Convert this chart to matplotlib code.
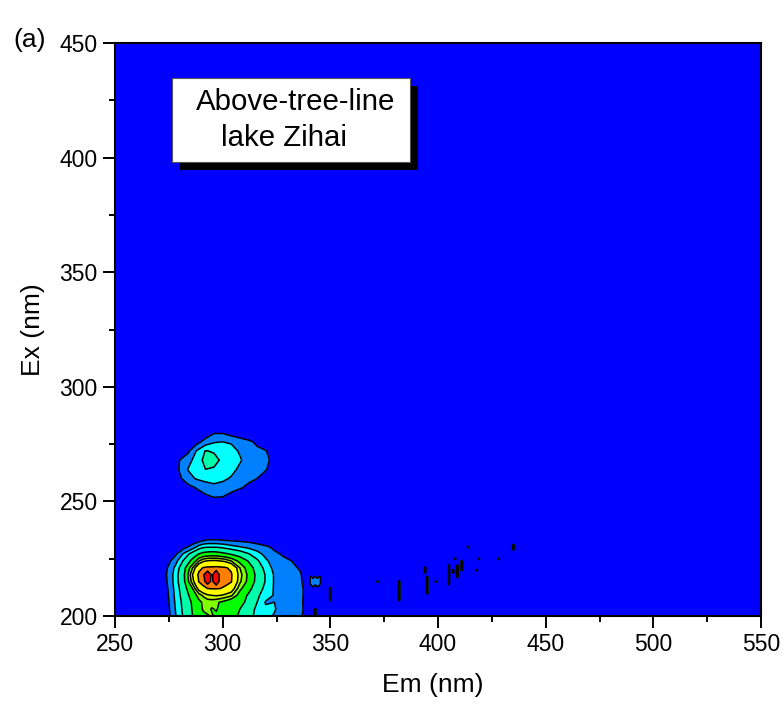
import numpy as np
import matplotlib
matplotlib.use("Agg")
import matplotlib.pyplot as plt
from matplotlib.patches import Rectangle
from matplotlib.ticker import MultipleLocator

plt.rcParams['font.family'] = ['Liberation Sans', 'DejaVu Sans']

# Lower peak (fluorescence intensity, in contour level units)
em_low = [270, 274, 278, 282, 286, 289, 291, 293, 295, 297, 299, 301, 304, 308, 312, 316, 320, 324, 328, 332, 336, 340, 344]
ex_low = [200, 203, 206, 209, 212, 215, 218, 221, 224, 227, 230, 233, 236]
z_low = [
    [0, .4, 1.9, 3.2, 4.5, 5.5, 5.8, 5.9, 6.1, 5.8, 5.8, 5.5, 5, 4.3, 3.5, 2.6, 2.3, 1.9, 1.4, 1.2, 1.15, .5, 0],
    [0, .5, 2, 3.3, 4.6, 5.6, 6.1, 6.3, 5.9, 6.1, 5.7, 5.3, 5.3, 4.5, 3.7, 2.7, 2.2, 2.1, 1.5, 1.2, 1.2, .6, 0],
    [0, .6, 2.1, 3.4, 4.7, 5.7, 6.2, 6.4, 6.4, 6.2, 5.9, 5.6, 4.9, 5.2, 3.9, 3, 1.9, 2, 1.5, 1.2, 1.2, .5, 0],
    [0, .7, 2.2, 3.6, 5.2, 6.5, 7.2, 7.8, 8, 8.1, 8, 7.7, 7.2, 5.4, 4.3, 3.2, 2.5, 1.9, 1.5, 1.3, 1.2, .6, 0],
    [0, .8, 2.3, 3.8, 6, 8.6, 9.6, 10, 10.1, 10.1, 10, 9.8, 8.9, 6.3, 5, 3.6, 2.7, 1.9, 1.5, 1.3, 1.2, .6, .4],
    [0, .95, 2.4, 4.2, 7.5, 10.1, 10.6, 11.6, 10.7, 11.9, 10.5, 10.4, 10.1, 7.2, 5.6, 4, 2.9, 1.9, 1.5, 1.3, 1.15, .4, .3],
    [0, 1.02, 2.4, 4.3, 8, 10.4, 10.9, 11.8, 10.8, 12, 10.6, 10.5, 10.2, 7.4, 5.7, 4.1, 2.9, 1.9, 1.5, 1.3, 1.1, .3, .2],
    [0, .9, 2.2, 4, 7, 9.5, 10.1, 10.3, 10.3, 10.4, 10.3, 10.2, 9.7, 7, 5.3, 3.8, 2.6, 1.7, 1.4, 1.2, .9, 0, 0],
    [0, .5, 1.6, 3.2, 5, 7, 7.8, 8.1, 8.2, 8.2, 8, 7.8, 7, 5.6, 4.4, 3.2, 2.2, 1.5, 1.2, 1, .4, 0, 0],
    [0, .1, .8, 2.2, 3.6, 4.6, 5, 5.2, 5.3, 5.2, 5, 4.8, 4.4, 3.8, 3.1, 2.4, 1.7, 1.2, .9, .5, .1, 0, 0],
    [0, 0, .2, .7, 1.5, 2.5, 2.9, 3, 3, 3, 2.9, 2.7, 2.4, 2.1, 1.8, 1.5, 1.2, .8, .4, .1, 0, 0, 0],
    [0, 0, 0, .1, .3, .6, .9, 1.1, 1.1, 1.1, 1.05, 1, .9, .8, .7, .5, .3, .1, 0, 0, 0, 0, 0],
    [0] * 23,
]

# Upper peak
em_up = [276, 280, 284, 288, 292, 296, 300, 304, 308, 312, 316, 320, 324]
ex_up = [248, 252, 256, 260, 264, 268, 272, 276, 280, 284]
z_up = [
    [0, 0, 0, 0, .1, .1, .1, 0, 0, 0, 0, 0, 0],
    [0, 0, 0, .3, .8, 1.05, 1, .7, .3, .1, 0, 0, 0],
    [0, 0, .6, 1.1, 1.5, 1.7, 1.6, 1.3, 1.1, .8, .4, .1, 0],
    [0, .8, 1.7, 2.1, 2.3, 2.4, 2.2, 1.9, 1.5, 1.2, 1, .7, .1],
    [0, 1.1, 2.05, 2.6, 3, 2.9, 2.6, 2.3, 1.8, 1.4, 1.2, 1.05, .6],
    [0, 1, 1.6, 2.5, 3.3, 3.3, 2.8, 2.4, 2.1, 1.6, 1.3, 1.15, .8],
    [0, .2, .8, 2.1, 3.05, 2.9, 2.6, 2.3, 1.9, 1.5, 1.2, 1.05, .5],
    [0, 0, .2, .6, 1.4, 1.9, 2, 1.9, 1.5, 1.2, .8, .4, 0],
    [0, 0, 0, 0, .3, .9, .9, .5, .3, .1, 0, 0, 0],
    [0] * 13,
]

# Small isolated features on the right: em, ex start, ex end
spike_em = [343, 350, 372, 382, 394, 395, 399, 405, 407, 408, 409, 411, 414, 418, 419, 428, 435]
spike_ex0 = [200, 207, 215, 207, 219, 210, 215, 214, 219, 225, 217, 220, 230, 220, 225, 225, 229]
spike_ex1 = [203, 212, 215, 215, 221, 217, 215, 222, 220, 225, 222, 224, 230, 220, 225, 225, 231]
# Small azure patch next to the lower peak
patch_em = [341, 342, 343, 344, 345]
patch_ex0 = [214, 213, 214, 213, 214]
patch_ex1 = [217, 216, 217, 216, 217]

levels = [1, 2, 3, 4.5, 6, 7, 8, 10, 11, 14]
colors = ['#0080ff', '#00ffff', '#00ffaa', '#00ff00', '#80ff00',
          '#ccff00', '#ffff00', '#ff8000', '#ff0000']

# Fill the sparse grid of the small features
em_tail = np.arange(338, 441)
ex_tail = np.arange(198, 235)
z_tail = np.zeros((len(ex_tail), len(em_tail)))
for em, e0, e1 in zip(spike_em + patch_em, spike_ex0 + patch_ex0, spike_ex1 + patch_ex1):
    z_tail[e0 - 198:e1 - 198 + 1, em - 338] = 1.6

fig = plt.figure(figsize=(7.84, 7.04), dpi=100)
W, H = 784, 704
ax = fig.add_axes([115 / W, 1 - 616 / H, 646 / W, 573 / H])
ax.set_facecolor('#0000ff')

for x, y, z in [(em_low, ex_low, z_low), (em_up, ex_up, z_up), (em_tail, ex_tail, z_tail)]:
    ax.contourf(x, y, z, levels=levels, colors=colors)
    ax.contour(x, y, z, levels=levels[:-1], colors='k', linewidths=1.1, linestyles='solid')

ax.set_xlim(250, 550)
ax.set_ylim(200, 450)
ax.xaxis.set_major_locator(MultipleLocator(50))
ax.xaxis.set_minor_locator(MultipleLocator(25))
ax.yaxis.set_major_locator(MultipleLocator(50))
ax.yaxis.set_minor_locator(MultipleLocator(25))
ax.tick_params(which='major', length=8.5, width=1.4, labelsize=16.5, pad=4)
ax.tick_params(which='minor', length=4.5, width=1.4)
for s in ax.spines.values():
    s.set_linewidth(1.5)
    s.set_zorder(10)

fig.text(433 / W, 1 - 685 / H, 'Em (nm)', fontsize=19, ha='center', va='center')
fig.text(33 / W, 1 - 330 / H, 'Ex (nm)', fontsize=19, ha='center', va='center', rotation=90)
fig.text(13 / W, 1 - 40 / H, '(a)', fontsize=19, ha='left', va='center')

# Label box with drop shadow
bx0, bx1 = (172 - 115) / 646, (410 - 115) / 646
by0, by1 = (616 - 162) / 573, (616 - 78) / 573
dx, dy = 8 / 646, 8 / 573
ax.add_patch(Rectangle((bx0 + dx, by0 - dy), bx1 - bx0, by1 - by0, transform=ax.transAxes,
                       facecolor='k', edgecolor='none', zorder=5))
ax.add_patch(Rectangle((bx0, by0), bx1 - bx0, by1 - by0, transform=ax.transAxes,
                       facecolor='w', edgecolor='#555555', linewidth=0.8, zorder=6))
fig.text(196 / W, 1 - 102 / H, 'Above-tree-line', fontsize=21.2, ha='left', va='center', zorder=7)
fig.text(221 / W, 1 - 138 / H, 'lake Zihai', fontsize=21.2, ha='left', va='center', zorder=7)

fig.savefig('out.png', dpi=100)
